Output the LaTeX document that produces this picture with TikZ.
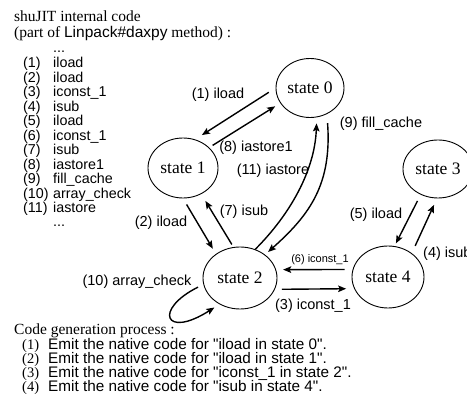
\documentclass[tikz,border=0pt]{standalone}
\usepackage{fontspec}
\setmainfont{Liberation Serif}
\setsansfont{Liberation Sans}
\usetikzlibrary{arrows.meta,shapes.geometric}
% straight double quote, set as a glyph so the TeX mapping leaves it alone
\newcommand\sq{\XeTeXglyph\XeTeXcharglyph"22\relax}
\begin{document}
\begin{tikzpicture}[x=1pt,y=-1pt,
  state/.style={ellipse,draw,line width=0.9pt,inner sep=0pt,
    font=\fontsize{17.5}{19}\selectfont},
  arr/.style={line width=1.4pt,-{Stealth[length=8pt,width=6.5pt,inset=1.5pt]}},
  lbl/.style={font=\sffamily\fontsize{14.5}{16}\selectfont,inner sep=0pt},
  small/.style={font=\sffamily\fontsize{11}{13}\selectfont,inner sep=0pt},
  code/.style={font=\sffamily\fontsize{14.3}{15}\selectfont,inner sep=0pt,anchor=base west},
  head/.style={font=\fontsize{15.5}{17}\selectfont,inner sep=0pt,anchor=base west},
  num/.style={font=\fontsize{14.5}{16}\selectfont,inner sep=0pt,anchor=base west},
  emit/.style={font=\sffamily\fontsize{15.3}{16}\selectfont,inner sep=0pt,anchor=base west}]

% page frame
\path[use as bounding box,fill=white] (0,0) rectangle (467,403);

% header
\node[head] (title) at (14,22) {shuJIT internal code};
\node[head] (sub) at (14,38) {(part of {\sffamily Linpack\#daxpy} method) :};

% bytecode listing
\node[code] (dotsA) at (53,53) {...};
\foreach \i/\ins in {1/iload,2/iload,3/iconst\_1,4/isub,5/iload,6/iconst\_1,
                     7/isub,8/iastore1,9/fill\_cache,10/array\_check,11/iastore}{
  \node[code] (n\i) at (23,{68+14.5*(\i-1)}) {(\i)};
  \node[code] (c\i) at (53,{68+14.5*(\i-1)}) {\ins};
}
\node[code] (dotsB) at (53,227) {...};

% states
\node[state,minimum width=68pt,minimum height=59pt] (s0) at (310,88) {state 0};
\node[state,minimum width=70pt,minimum height=60pt] (s1) at (183,168) {state 1};
\node[state,minimum width=74pt,minimum height=62pt] (s2) at (240,278) {state 2};
\node[state,minimum width=70pt,minimum height=58pt] (s3) at (438,169) {state 3};
\node[state,minimum width=72pt,minimum height=62pt] (s4) at (388,277) {state 4};

% transitions
\draw[arr,shorten <=8pt,shorten >=8pt] (s0.180) -- (s1.67);
\draw[arr,shorten <=4pt,shorten >=6pt] (s1.38) -- (s0.207);
\draw[arr,shorten <=7pt,shorten >=6pt] (s1.270) -- (s2.135);
\draw[arr,shorten <=3pt,shorten >=8pt] (s2.102) -- (s1.-55);
\draw[arr,shorten >=6pt] (s2.62) .. controls +(35,-35) and +(-2,53) .. (s0.-77);
\draw[arr,shorten <=9pt,shorten >=4pt] (s0.-57) .. controls +(5,70) and +(45,-40) .. (s2.43);
\draw[arr,shorten <=6pt,shorten >=6pt] (s2.190) .. controls +(-50,25) and +(-55,35) .. (s2.232);
\draw[arr,shorten <=8pt,shorten >=7pt] (s4.168) -- (s2.13);
\draw[arr,shorten <=7pt,shorten >=8pt] (s2.-18) -- (s4.199);
\draw[arr,shorten <=7pt,shorten >=3pt] (s3.236) -- (s4.78);
\draw[arr,shorten <=8pt,shorten >=7pt] (s4.45) -- (s3.268);

% transition labels
\node[lbl] (l1) at (218,95) {(1) iload};
\node[lbl] (l8) at (256,148) {(8) iastore1};
\node[lbl] (l11) at (273,171) {(11) iastore};
\node[lbl] (l9) at (381,124) {(9) fill\_cache};
\node[lbl] (l2) at (161,223) {(2) iload};
\node[lbl] (l7) at (244,212) {(7) isub};
\node[lbl] (l10) at (137,282) {(10) array\_check};
\node[small] (l6) at (320,260) {(6) iconst\_1};
\node[lbl] (l3) at (313,306) {(3) iconst\_1};
\node[lbl] (l5) at (376,215) {(5) iload};
\node[lbl,anchor=west] (l4) at (423,254) {(4) isub};

% code generation steps
\node[head] (gen) at (14,335) {Code generation process :};
\node[num] (g1) at (22,350) {(1)};
\node[emit] (e1) at (48,350) {Emit the native code for \sq iload in state 0\sq.};
\node[num] (g2) at (22,364) {(2)};
\node[emit] (e2) at (48,364) {Emit the native code for \sq iload in state 1\sq.};
\node[num] (g3) at (22,378) {(3)};
\node[emit] (e3) at (48,378) {Emit the native code for \sq iconst\_1 in state 2\sq.};
\node[num] (g4) at (22,392) {(4)};
\node[emit] (e4) at (48,392) {Emit the native code for \sq isub in state 4\sq.};
\end{tikzpicture}
\end{document}
